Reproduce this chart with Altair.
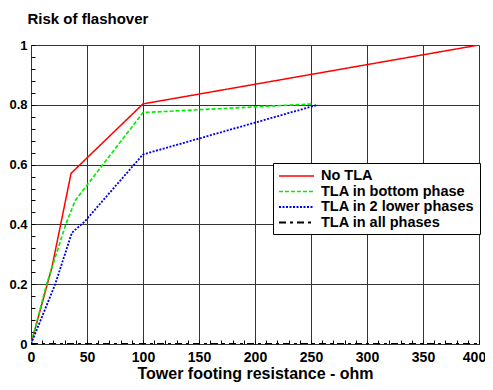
import altair as alt
import pandas as pd

series = ["No TLA", "TLA in bottom phase", "TLA in 2 lower phases", "TLA in all phases"]
colors = ["#ff0000", "#00ee00", "#0000ee", "#000000"]
dashes = [[1, 0], [4, 2], [2, 1.5], [7, 4, 3, 4]]
widths = [1.5, 2, 2, 2.5]

no_tla_x = [0, 18.7, 35.8, 100, 400]
no_tla_y = [0, 0.257, 0.571, 0.803, 1.0]
bottom_x = [0, 14, 31, 39.5, 100, 252]
bottom_y = [0, 0.2, 0.4, 0.48, 0.774, 0.803]
lower2_x = [0, 21.6, 36.5, 48, 100, 256]
lower2_y = [0, 0.2, 0.372, 0.41, 0.634, 0.80]
all_x = [0, 400]
all_y = [0, 0]

rows = []
for name, xs, ys in [(series[0], no_tla_x, no_tla_y), (series[1], bottom_x, bottom_y),
                     (series[2], lower2_x, lower2_y), (series[3], all_x, all_y)]:
    for i, (a, b) in enumerate(zip(xs, ys)):
        rows.append({"series": name, "r": a, "risk": b, "order": i})
df = pd.DataFrame(rows)

x_ticks = list(range(0, 401, 10))
y_ticks = [round(i * 0.04, 2) for i in range(26)]

FONT = "Liberation Sans"

x_axis = alt.Axis(
    values=x_ticks,
    labelExpr="datum.value % 50 === 0 ? datum.label : ''",
    labelOffset={"condition": {"test": "datum.value === 400", "value": -5}, "value": 0},
    gridOpacity={"condition": {"test": "datum.value % 50 === 0", "value": 1}, "value": 0},
    gridColor="#333", gridWidth=1,
    domain=False, offset=-4, tickSize=4, tickColor="#000", tickWidth=1,
    labelFont=FONT, labelFontWeight="bold", labelFontSize=14, labelColor="#000",
    labelPadding=6, labelOverlap=False, labelFlush=False,
    title="Tower footing resistance - ohm", titleFont=FONT, titleFontWeight="bold",
    titleFontSize=16, titleColor="#000", titlePadding=1,
)
y_axis = alt.Axis(
    values=y_ticks, format=".1~f",
    labelExpr="abs(round(datum.value*100) % 20) === 0 ? datum.label : ''",
    gridOpacity={"condition": {"test": "abs(round(datum.value*100) % 20) === 0", "value": 1}, "value": 0},
    gridColor="#333", gridWidth=1,
    domain=False, offset=-4, tickSize=4, tickColor="#000", tickWidth=1,
    labelFont=FONT, labelFontWeight="bold", labelFontSize=13, labelColor="#000",
    labelPadding=4, labelOverlap=False, labelFlush=False,
    title="Risk of flashover", titleAngle=0, titleAlign="left", titleBaseline="alphabetic",
    titleX=-8, titleY=-22, titleFont=FONT, titleFontWeight="bold", titleFontSize=15,
    titleColor="#000",
)

legend = alt.Legend(
    title=None, orient="none", legendX=242, legendY=118,
    symbolType="M-1,0H4", symbolSize=196,
    labelFont=FONT, labelFontWeight="bold", labelFontSize=14.5, labelColor="#000",
    strokeColor="#000", fillColor="#fff", padding=5, rowPadding=0.5, labelOffset=27,
    cornerRadius=0,
)

chart = alt.Chart(df).mark_line(clip=True).encode(
    x=alt.X("r:Q", scale=alt.Scale(domain=[0, 400], nice=False), axis=x_axis),
    y=alt.Y("risk:Q", scale=alt.Scale(domain=[0, 1], nice=False), axis=y_axis),
    color=alt.Color("series:N", scale=alt.Scale(domain=series, range=colors), legend=legend, sort=series),
    strokeDash=alt.StrokeDash("series:N", scale=alt.Scale(domain=series, range=dashes), legend=legend, sort=series),
    strokeWidth=alt.StrokeWidth("series:N", scale=alt.Scale(domain=series, range=widths), legend=legend, sort=series),
    order="order:Q",
).properties(
    width=448, height=299,
    autosize=alt.AutoSizeParams(type="none"),
    padding={"left": 23, "top": 37, "right": 6, "bottom": 38},
).configure_view(
    stroke="#000", strokeWidth=1,
).configure(background="#fff")

chart.save("out.html", embed_options={"renderer": "svg", "actions": False})
